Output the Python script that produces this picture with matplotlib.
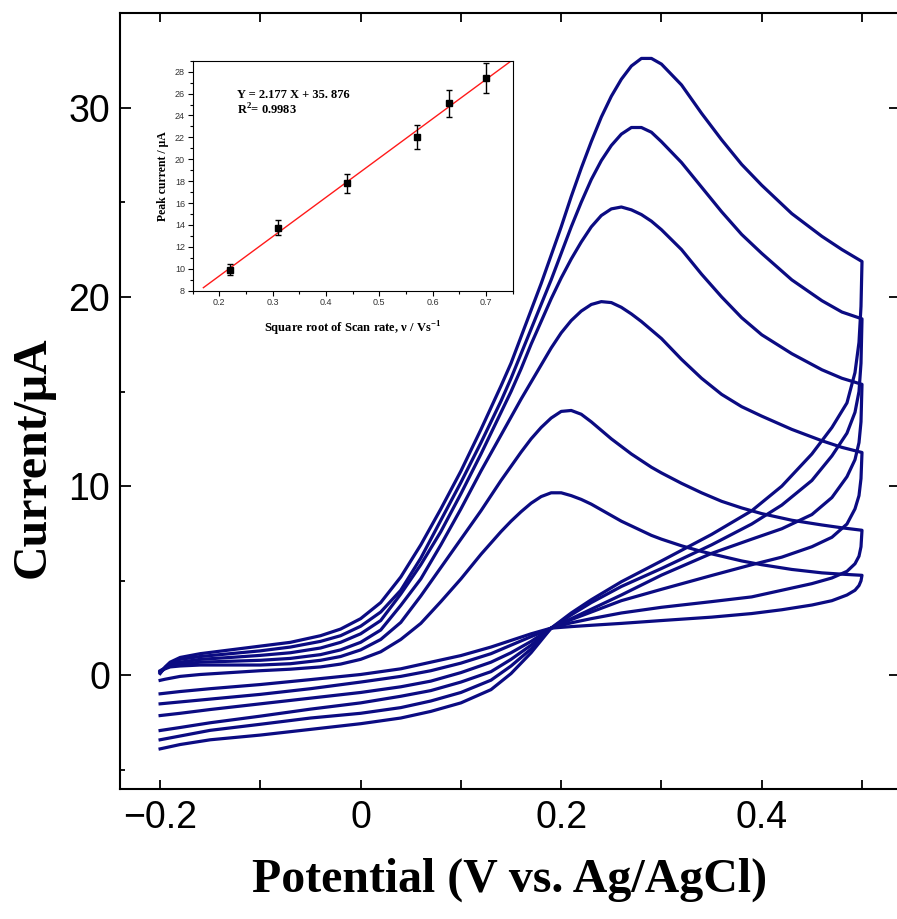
import numpy as np
import matplotlib.pyplot as plt
from matplotlib.ticker import MultipleLocator

# Potential grids (V vs. Ag/AgCl): forward scan -0.2 -> 0.5, reverse scan 0.5 -> -0.2
e_fwd = [-0.2, -0.195, -0.19, -0.18, -0.16, -0.13, -0.1, -0.07, -0.04, -0.02,
         0.0, 0.02, 0.04, 0.06, 0.08, 0.1, 0.12, 0.14,
         0.15, 0.16, 0.17, 0.18, 0.19, 0.2, 0.21, 0.22, 0.23, 0.24, 0.25, 0.26, 0.27,
         0.28, 0.29, 0.3, 0.32, 0.34, 0.36, 0.38, 0.4, 0.43, 0.46, 0.48, 0.5]
e_rev = [0.5, 0.499, 0.497, 0.493, 0.485, 0.47, 0.45, 0.42, 0.39, 0.35, 0.3, 0.26,
         0.23, 0.21, 0.19, 0.17, 0.15, 0.13, 0.1, 0.07, 0.04, 0.0, -0.05, -0.1, -0.15,
         -0.18, -0.2]

# Current (uA), one forward and one reverse branch per scan rate (1 = slowest)
i_fwd_1 = [-0.26, -0.2, -0.15, -0.05, 0.05, 0.15, 0.25, 0.33, 0.45, 0.6,
           0.85, 1.25, 1.9, 2.75, 3.9, 5.1, 6.4, 7.6,
           8.15, 8.65, 9.1, 9.45, 9.65, 9.65, 9.5, 9.3, 9.05, 8.75, 8.45, 8.15, 7.9,
           7.65, 7.4, 7.2, 6.85, 6.55, 6.3, 6.05, 5.85, 5.6, 5.42, 5.35, 5.29]
i_rev_1 = [5.29, 5.0, 4.75, 4.5, 4.25, 3.95, 3.72, 3.47, 3.27, 3.08, 2.9, 2.75,
           2.65, 2.58, 2.5, 2.2, 1.85, 1.5, 1.05, 0.7, 0.35, 0.05, -0.22, -0.48, -0.7,
           -0.85, -0.97]

i_fwd_2 = [0.2, 0.35, 0.45, 0.5, 0.55, 0.55, 0.55, 0.62, 0.8, 1.0,
           1.35, 1.9, 2.8, 4.2, 5.7, 7.2, 8.7, 10.3,
           11.05, 11.8, 12.5, 13.1, 13.6, 13.95, 14.0, 13.8, 13.4, 12.95, 12.5, 12.1, 11.7,
           11.35, 11.0, 10.7, 10.15, 9.65, 9.2, 8.85, 8.55, 8.2, 7.95, 7.8, 7.67]
i_rev_2 = [7.67, 6.8, 6.3, 5.9, 5.5, 5.15, 4.85, 4.5, 4.15, 3.9, 3.6, 3.3,
           3.0, 2.78, 2.5, 2.05, 1.6, 1.15, 0.65, 0.25, -0.05, -0.35, -0.7, -1.0, -1.25,
           -1.4, -1.5]

i_fwd_3 = [0.25, 0.4, 0.5, 0.6, 0.7, 0.75, 0.8, 0.9, 1.1, 1.35,
           1.75, 2.4, 3.7, 5.1, 6.9, 8.8, 10.8, 12.7,
           13.65, 14.6, 15.5, 16.4, 17.3, 18.1, 18.75, 19.25, 19.6, 19.75, 19.7, 19.45, 19.1,
           18.7, 18.25, 17.8, 16.7, 15.7, 14.85, 14.2, 13.7, 13.0, 12.4, 12.05, 11.78]
i_rev_3 = [11.78, 10.4, 9.5, 8.8, 8.0, 7.3, 6.8, 6.25, 5.85, 5.28, 4.55, 3.95,
           3.35, 2.95, 2.5, 1.8, 1.2, 0.7, 0.15, -0.3, -0.6, -0.9, -1.2, -1.5, -1.8,
           -2.0, -2.12]

i_fwd_4 = [0.2, 0.4, 0.55, 0.7, 0.85, 0.95, 1.06, 1.2, 1.45, 1.75,
           2.2, 2.9, 4.3, 5.85, 7.6, 9.6, 11.7, 13.9,
           15.0, 16.2, 17.5, 18.7, 19.9, 21.0, 22.0, 22.9, 23.7, 24.3, 24.65, 24.75, 24.6,
           24.35, 24.0, 23.55, 22.5, 21.2, 20.0, 18.9, 18.0, 17.0, 16.15, 15.7, 15.38]
i_rev_4 = [15.38, 13.4, 12.3, 11.4, 10.5, 9.4, 8.5, 7.75, 7.2, 6.45, 5.3, 4.25,
           3.5, 3.0, 2.5, 1.6, 0.85, 0.2, -0.35, -0.8, -1.1, -1.45, -1.78, -2.15, -2.5,
           -2.75, -2.91]

i_fwd_5 = [0.15, 0.4, 0.6, 0.85, 1.0, 1.15, 1.3, 1.5, 1.8, 2.1,
           2.6, 3.35, 4.5, 6.2, 8.2, 10.2, 12.3, 14.5,
           15.7, 17.0, 18.3, 19.6, 20.9, 22.3, 23.7, 25.0, 26.2, 27.2, 28.0, 28.6, 28.95,
           28.95, 28.7, 28.2, 27.1, 25.8, 24.5, 23.3, 22.3, 20.9, 19.8, 19.2, 18.84]
i_rev_5 = [18.84, 16.5, 15.0, 13.9, 12.8, 11.6, 10.3, 9.0, 8.0, 6.9, 5.65, 4.7,
           3.85, 3.2, 2.5, 1.4, 0.5, -0.25, -0.9, -1.35, -1.7, -2.0, -2.25, -2.58, -2.9,
           -3.2, -3.4]

i_fwd_6 = [0.1, 0.45, 0.7, 0.95, 1.15, 1.35, 1.55, 1.75, 2.1, 2.45,
           3.0, 3.85, 5.2, 6.9, 8.8, 10.8, 13.0, 15.3,
           16.5, 17.9, 19.3, 20.7, 22.2, 23.7, 25.3, 26.8, 28.2, 29.5, 30.6, 31.5, 32.2,
           32.6, 32.6, 32.3, 31.2, 29.7, 28.3, 27.0, 25.9, 24.4, 23.2, 22.5, 21.87]
i_rev_6 = [21.87, 19.5, 17.6, 16.0, 14.4, 13.1, 11.7, 10.0, 8.7, 7.45, 6.05, 4.95,
           4.0, 3.3, 2.5, 1.2, 0.1, -0.75, -1.45, -1.9, -2.25, -2.55, -2.85, -3.15, -3.4,
           -3.65, -3.88]

# Inset: peak current vs square root of scan rate
sqrt_rate = [0.22, 0.31, 0.44, 0.57, 0.63, 0.70]
peak_current = [9.9, 13.75, 17.8, 22.0, 25.1, 27.4]
peak_err = [0.5, 0.7, 0.9, 1.1, 1.25, 1.35]
fit_slope = 35.876
fit_intercept = 2.177
fit_range = [0.17, 0.75]

navy = '#0b0b82'
sans = 'Liberation Sans'
serif = 'Liberation Serif'

fig = plt.figure(figsize=(8.97, 9.19), dpi=100)
ax = fig.add_axes([120 / 897, 130 / 919, 779.5 / 897, 776 / 919])

fwd = [i_fwd_1, i_fwd_2, i_fwd_3, i_fwd_4, i_fwd_5, i_fwd_6]
rev = [i_rev_1, i_rev_2, i_rev_3, i_rev_4, i_rev_5, i_rev_6]
for f, r in zip(fwd, rev):
    ax.plot(e_fwd + e_rev, f + r, color=navy, lw=2.3, solid_joinstyle='round')

ax.set_xlim(-0.24, 0.5374)
ax.set_ylim(-6.0, 35.0)
ax.xaxis.set_major_locator(MultipleLocator(0.2))
ax.xaxis.set_minor_locator(MultipleLocator(0.1))
ax.yaxis.set_major_locator(MultipleLocator(10))
ax.yaxis.set_minor_locator(MultipleLocator(5))
ax.set_xticks([-0.2, 0, 0.2, 0.4])
ax.set_xticklabels(['\u22120.2', '0', '0.2', '0.4'])
ax.tick_params(which='both', direction='in', top=True, right=True, width=1.3,
               labelsize=27)
ax.tick_params(axis='x', which='both', length=6.5, pad=8)
ax.tick_params(axis='y', which='major', length=8, pad=7)
ax.tick_params(axis='y', which='minor', length=3.6, right=False)
for lab in ax.get_xticklabels() + ax.get_yticklabels():
    lab.set_family(sans)
for sp in ax.spines.values():
    sp.set_linewidth(1.5)

ax.set_xlabel('Potential (V vs. Ag/AgCl)', fontsize=34.5, fontweight='bold', family=serif)
ax.set_ylabel('Current/\u03bcA', fontsize=34.5, fontweight='bold', family=serif)
ax.xaxis.set_label_coords(0.5, -0.088)
ax.yaxis.set_label_coords(-0.0835, 0.427)

# Inset
axin = fig.add_axes([192.7 / 897, (919 - 290.7) / 919, 320 / 897, 230 / 919])
axin.plot(fit_range, [fit_slope * v + fit_intercept for v in fit_range],
          color='#ff1a1a', lw=1.0)
axin.errorbar(sqrt_rate, peak_current, yerr=peak_err, fmt='s', color='black',
              ms=4.5, capsize=2.5, elinewidth=1.0, capthick=1.0)
axin.set_xlim(0.15, 0.75)
axin.set_ylim(8, 29)
axin.xaxis.set_major_locator(MultipleLocator(0.1))
axin.xaxis.set_minor_locator(MultipleLocator(0.05))
axin.yaxis.set_major_locator(MultipleLocator(2))
axin.yaxis.set_minor_locator(MultipleLocator(1))
axin.tick_params(which='both', direction='out', width=0.8, labelsize=6.5,
                 labelcolor='#333333', pad=2)
axin.tick_params(which='major', length=3.5)
axin.tick_params(which='minor', length=2)
for lab in axin.get_xticklabels() + axin.get_yticklabels():
    lab.set_family(sans)
for sp in axin.spines.values():
    sp.set_linewidth(0.8)
axin.set_xlabel('Square root of Scan rate, \u03bd / Vs$^{\\mathregular{-1}}$',
                fontsize=9, fontweight='bold', family=serif, labelpad=9)
axin.set_ylabel('Peak current / \u03bcA', fontsize=8.5, fontweight='bold', family=serif,
                labelpad=4)
axin.text(0.1375, 0.838, 'Y = 2.177 X + 35. 876', transform=axin.transAxes,
          fontsize=9, fontweight='bold', family=serif)
axin.text(0.1375, 0.764, 'R$^{\\mathregular{2}}$= 0.9983', transform=axin.transAxes,
          fontsize=9, fontweight='bold', family=serif)

fig.savefig('out.png', dpi=100)
